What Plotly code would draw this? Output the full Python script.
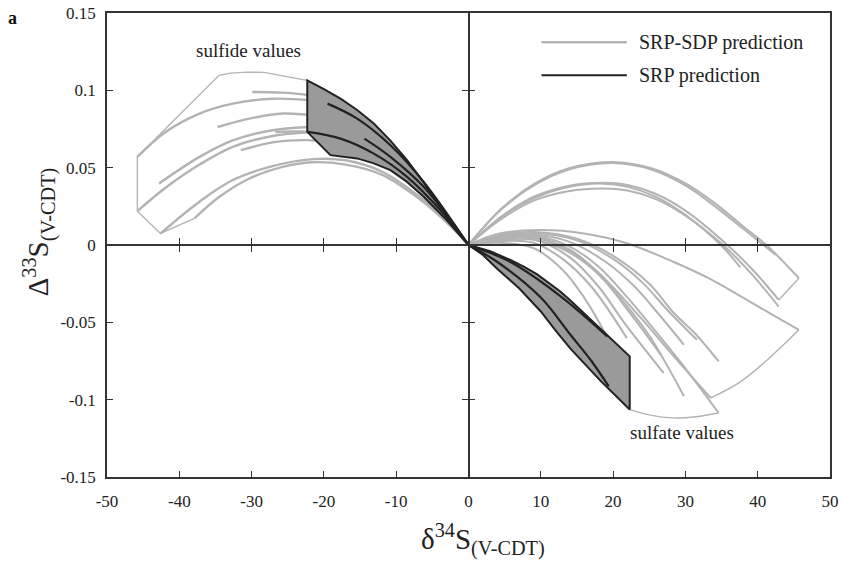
import plotly.graph_objects as go

# ---------------- data ----------------
# SRP-SDP prediction curves, sulfide side (delta34S < 0)
sulfide_grey_x = [
    [-45.8, -41.9, -37.2, -32.6, -27.1, -21.6],
    [-29.9, -25.7, -21.6],
    [-34.7, -30.3, -25.7, -21.6],
    [-42.8, -37.2, -32.6, -27.1, -21.6],
    [-45.8, -41.9, -37.2, -32.6, -27.1, -22.0],
    [-31.5, -26.7, -22.3, -19.5],
    [-26.7, -22.3, -20.0],
    [-42.6, -37.2, -32.6, -27.1, -21.6, -17.0, -12.0, -7.0, -3.0, 0.0],
    [-37.9, -34.5, -30.3, -25.7, -21.6, -17.0, -12.0, -7.0, -3.0, 0.0],
]
sulfide_grey_y = [
    [0.057, 0.0731, 0.085, 0.0914, 0.0946, 0.0935],
    [0.0989, 0.0985, 0.0968],
    [0.0763, 0.0817, 0.085, 0.0839],
    [0.0398, 0.057, 0.0677, 0.0742, 0.0763],
    [0.0219, 0.037, 0.052, 0.0635, 0.0705, 0.0728],
    [0.0613, 0.0667, 0.0678, 0.0665],
    [0.0731, 0.0733, 0.072],
    [0.0075, 0.028, 0.042, 0.051, 0.0555, 0.0548, 0.0475, 0.032, 0.0155, 0.0],
    [0.0172, 0.031, 0.043, 0.0505, 0.0535, 0.052, 0.0455, 0.0305, 0.0145, 0.0],
]
# outline joining the ends of the sulfide curves
sulfide_envelope_x = [-22.3, -24.2, -28.3, -30.6, -32.9, -34.5, -45.8, -45.8, -42.6, -37.9]
sulfide_envelope_y = [0.1064, 0.1082, 0.1116, 0.1118, 0.1111, 0.1097, 0.057, 0.0219, 0.0075, 0.0172]

# SRP-SDP prediction curves, sulfate side (delta34S > 0)
sulfate_grey_x = [
    [0, 4.6, 9.2, 13.8, 19.8, 25.4, 30.0, 34.1, 38.0, 41.2, 45.7],
    [0, 4.6, 9.2, 13.8, 19.8, 25.4, 30.0, 34.1, 38.0, 40.8, 42.5],
    [0, 4.6, 9.2, 13.8, 18.0, 22.0, 26.0, 30.0, 34.9, 37.6],
    [0, 4.6, 9.2, 13.8, 18.5, 22.0, 26.0, 30.0, 35.8, 39.5, 42.9],
    [0, 4.6, 9.2, 13.8, 18.5, 22.0, 26.0, 30.0, 35.2, 39.2, 42.9],
    [0, 4, 10, 16, 22, 28.4, 33.0, 37.6, 42.0, 45.7],
    [0, 4, 9, 15, 20, 25, 28.4, 31.5, 34.6],
    [0, 4, 9, 15, 20, 24, 27.5, 31.6],
    [0, 4, 9, 14, 19, 23, 26, 29.8],
    [0, 4, 9, 14, 18, 22, 25.2, 30.2, 34.6],
    [0, 4, 9, 14, 18, 23.8, 28.4, 33.5],
    [0, 4, 9, 14, 18, 22, 25.2, 29.8],
    [0, 4, 9, 14, 18, 21.5, 27.0],
    [0, 4, 9, 14, 18, 22.5, 26.6],
    [0, 4, 9, 13, 17, 21.9],
    [0, 4, 9, 13, 16, 18.9],
]
sulfate_grey_y = [
    [0, 0.0237, 0.0398, 0.0495, 0.0537, 0.0495, 0.0398, 0.0269, 0.012, 0.0, -0.0215],
    [0, 0.0232, 0.039, 0.0487, 0.053, 0.0487, 0.0385, 0.025, 0.0105, 0.0, -0.0065],
    [0, 0.0183, 0.0305, 0.0375, 0.0398, 0.0376, 0.031, 0.0195, 0.0, -0.0145],
    [0, 0.0186, 0.0315, 0.0382, 0.0402, 0.0388, 0.0328, 0.0222, 0.0, -0.017, -0.0355],
    [0, 0.017, 0.029, 0.0348, 0.0365, 0.0352, 0.0295, 0.019, 0.0, -0.019, -0.0398],
    [0, 0.0072, 0.0097, 0.0075, 0.001, -0.011, -0.021, -0.033, -0.045, -0.0548],
    [0, 0.0062, 0.0084, 0.004, -0.007, -0.025, -0.044, -0.058, -0.0753],
    [0, 0.0058, 0.0078, 0.003, -0.009, -0.024, -0.042, -0.0613],
    [0, 0.0052, 0.0068, 0.002, -0.011, -0.027, -0.043, -0.0645],
    [0, 0.0048, 0.006, -0.001, -0.014, -0.034, -0.052, -0.081, -0.1086],
    [0, 0.0044, 0.0052, -0.003, -0.018, -0.047, -0.072, -0.0989],
    [0, 0.0042, 0.0048, -0.004, -0.019, -0.04, -0.06, -0.0978],
    [0, 0.0035, 0.0035, -0.008, -0.027, -0.05, -0.0828],
    [0, 0.0032, 0.0035, -0.005, -0.019, -0.045, -0.071],
    [0, 0.0025, 0.0015, -0.009, -0.027, -0.0602],
    [0, 0.0015, -0.002, -0.016, -0.034, -0.057],
]
# outlines joining the ends of the sulfate curves
sulfate_env_upper_x = [45.7, 42.9]
sulfate_env_upper_y = [-0.0215, -0.0355]
sulfate_env_mid_x = [45.7, 41.5, 37.6, 33.5]
sulfate_env_mid_y = [-0.0548, -0.0735, -0.0885, -0.0989]
sulfate_env_low_x = [22.3, 25.0, 28.4, 31.5, 34.6]
sulfate_env_low_y = [-0.1064, -0.1098, -0.1118, -0.111, -0.1086]

# SRP prediction field, sulfide side (polygon) and its curves
sulfide_srp_area_x = [0, -2.0, -3.9, -6.2, -8.5, -10.8, -13.1, -15.4, -17.7, -20.0, -22.3,
                      -22.3, -19.1, -15.4, -13.1, -10.8, -8.5, -6.2, -3.0, 0]
sulfide_srp_area_y = [0, 0.0132, 0.0247, 0.0405, 0.0548, 0.0675, 0.0785, 0.0873, 0.0946, 0.1008, 0.1064,
                      0.0731, 0.0581, 0.056, 0.0528, 0.0484, 0.0408, 0.0312, 0.016, 0]
sulfide_srp_x = [
    [-22.3, -17.7, -13.1, -8.5, -3.9, 0],
    [-19.5, -15.4, -10.8, -6.2, 0],
    [-14.4, -10.8, -6.2, 0],
]
sulfide_srp_y = [
    [0.0731, 0.0688, 0.0591, 0.0441, 0.0226, 0],
    [0.0914, 0.0817, 0.0645, 0.0408, 0],
    [0.0688, 0.057, 0.0376, 0],
]

# SRP prediction field, sulfate side (polygon) and its curves
sulfate_srp_area_x = [0, 3.0, 5.8, 7.7, 9.5, 11.1, 12.7, 14.1, 15.5, 16.9, 18.3, 20.3, 22.3,
                      22.3, 20.3, 18.3, 16.2, 14.1, 12.0, 10.0, 7.0, 4.0, 2.0, 0]
sulfate_srp_area_y = [0, -0.004, -0.0097, -0.0141, -0.019, -0.0243, -0.0301, -0.0359, -0.042, -0.0482, -0.0548,
                      -0.0632, -0.072,
                      -0.1064, -0.0972, -0.088, -0.0775, -0.067, -0.055, -0.043, -0.028, -0.0155, -0.0065, 0]
sulfate_srp_x = [
    [0, 5.8, 12.7, 19.2],
    [0, 4, 10, 14.1, 17, 19.4],
]
sulfate_srp_y = [
    [0, -0.011, -0.033, -0.0591],
    [0, -0.011, -0.034, -0.058, -0.075, -0.0914],
]

x_ticks = [-50, -40, -30, -20, -10, 0, 10, 20, 30, 40, 50]
x_tick_text = ["-50", "-40", "-30", "-20", "-10", "0", "10", "20", "30", "40", "50"]
y_ticks = [0.15, 0.1, 0.05, 0, -0.05, -0.1, -0.15]
y_tick_text = ["0.15", "0.1", "0.05", "0", "-0.05", "-0.1", "-0.15"]
legend_names = ["SRP-SDP prediction", "SRP prediction"]

# ---------------- styling ----------------
GREY = "#b3b3b3"
DARK = "#222222"
FILL = "#9a9a9a"
AXC = "#333333"
FONT = '"Liberation Serif", "Times New Roman", Times, "DejaVu Serif", serif'

fig = go.Figure()

def add_line(x, y, color, width, shape="spline", name=None):
    fig.add_trace(go.Scatter(x=x, y=y, mode="lines",
                             line=dict(color=color, width=width, shape=shape, smoothing=1.0),
                             showlegend=False, hoverinfo="skip", name=name))

for xs, ys in zip(sulfide_grey_x, sulfide_grey_y):
    add_line(xs, ys, GREY, 2.4, name=legend_names[0])
add_line(sulfide_envelope_x, sulfide_envelope_y, GREY, 1.4, shape="linear")
for xs, ys in zip(sulfate_grey_x, sulfate_grey_y):
    add_line(xs, ys, GREY, 2.0, name=legend_names[0])
add_line(sulfate_env_upper_x, sulfate_env_upper_y, GREY, 1.4, shape="linear")
add_line(sulfate_env_mid_x, sulfate_env_mid_y, GREY, 1.4)
add_line(sulfate_env_low_x, sulfate_env_low_y, GREY, 1.4)

for ax, ay in [(sulfide_srp_area_x, sulfide_srp_area_y), (sulfate_srp_area_x, sulfate_srp_area_y)]:
    fig.add_trace(go.Scatter(x=ax, y=ay, mode="lines", fill="toself", fillcolor=FILL,
                             line=dict(color=DARK, width=2, shape="linear"),
                             showlegend=False, hoverinfo="skip", name=legend_names[1]))
for xs, ys in zip(sulfide_srp_x + sulfate_srp_x, sulfide_srp_y + sulfate_srp_y):
    add_line(xs, ys, DARK, 2.2, name=legend_names[1])

# dummy traces so the zero-crossing axes are drawn
for xa, ya in [("x2", "y"), ("x3", "y"), ("x", "y2"), ("x", "y3")]:
    fig.add_trace(go.Scatter(x=[None], y=[None], xaxis=xa, yaxis=ya, mode="lines",
                             showlegend=False, hoverinfo="skip"))

tickfont = dict(family=FONT, size=17, color="#222")
common_x = dict(range=[-50, 50], showgrid=False, zeroline=False, linecolor=AXC, linewidth=1.5,
                tickcolor=AXC, tickwidth=1.3, ticklen=6, automargin=False)
common_y = dict(range=[-0.15, 0.15], showgrid=False, zeroline=False, linecolor=AXC, linewidth=1.5,
                tickcolor=AXC, tickwidth=1.3, ticklen=6, automargin=False)

fig.update_layout(
    width=842, height=566, autosize=False,
    margin=dict(l=107, r=12, t=13, b=89, pad=0, autoexpand=False),
    paper_bgcolor="white", plot_bgcolor="white",
    font=dict(family=FONT, color="#222"),
    showlegend=False,
    xaxis=dict(**common_x, tickmode="array", tickvals=x_ticks, ticktext=x_tick_text, ticks="inside",
               showline=True, mirror=True, tickfont=tickfont, ticklabelstandoff=8,
               ticklabeloverflow="allow"),
    yaxis=dict(**common_y, tickmode="array", tickvals=y_ticks, ticktext=y_tick_text, ticks="inside",
               showline=True, mirror=True, tickfont=tickfont, ticklabelstandoff=6,
               ticklabeloverflow="allow"),
    xaxis2=dict(**common_x, overlaying="x", anchor="free", position=0.5, tickmode="array",
                tickvals=x_ticks[1:-1], ticks="inside", showline=True, showticklabels=False),
    xaxis3=dict(**common_x, overlaying="x", anchor="free", position=0.5, tickmode="array",
                tickvals=x_ticks[1:-1], ticks="outside", showline=True, showticklabels=False),
    yaxis2=dict(**common_y, overlaying="y", anchor="free", position=0.5, tickmode="array",
                tickvals=[0.1, 0.05, -0.05, -0.1], ticks="inside", showline=True, showticklabels=False),
    yaxis3=dict(**common_y, overlaying="y", anchor="free", position=0.5, tickmode="array",
                tickvals=[0.1, 0.05, -0.05, -0.1], ticks="outside", showline=True, showticklabels=False),
)

# manual legend (long line samples as in the original)
legend_colors = ["#a8a8a8", DARK]
legend_y = [0.937, 0.866]
for name, col, ly in zip(legend_names, legend_colors, legend_y):
    fig.add_shape(type="line", xref="paper", yref="paper", x0=0.601, x1=0.719, y0=ly, y1=ly,
                  line=dict(color=col, width=2))
    fig.add_annotation(xref="paper", yref="paper", x=0.733, y=ly, text=name, showarrow=False,
                       xanchor="left", yanchor="middle", font=dict(family=FONT, size=20, color="#222"))

fig.add_annotation(x=-30.4, y=0.1258, text="sulfide values", showarrow=False,
                   font=dict(family=FONT, size=19, color="#222"))
fig.add_annotation(x=29.5, y=-0.1213, text="sulfate values", showarrow=False,
                   font=dict(family=FONT, size=19, color="#222"))
fig.add_annotation(xref="paper", yref="paper", x=-0.131, y=0.989, text="<b>a</b>", showarrow=False,
                   xanchor="center", yanchor="middle", font=dict(family=FONT, size=18, color="#111"))
fig.add_annotation(xref="paper", yref="paper", x=0.52, y=-0.135,
                   text="δ<sup>34</sup>S<sub>(V-CDT)</sub>", showarrow=False,
                   xanchor="center", yanchor="middle", font=dict(family=FONT, size=29, color="#222"))
fig.add_annotation(xref="paper", yref="paper", x=-0.095, y=0.528, textangle=-90,
                   text="Δ<sup>33</sup>S<sub>(V-CDT)</sub>", showarrow=False,
                   xanchor="center", yanchor="middle", font=dict(family=FONT, size=29, color="#222"))

# the page's default 8px body margin would shift the figure; remove it
fig.write_html("out.html", config={"displayModeBar": False},
               post_script="document.body.style.margin='0px';")
